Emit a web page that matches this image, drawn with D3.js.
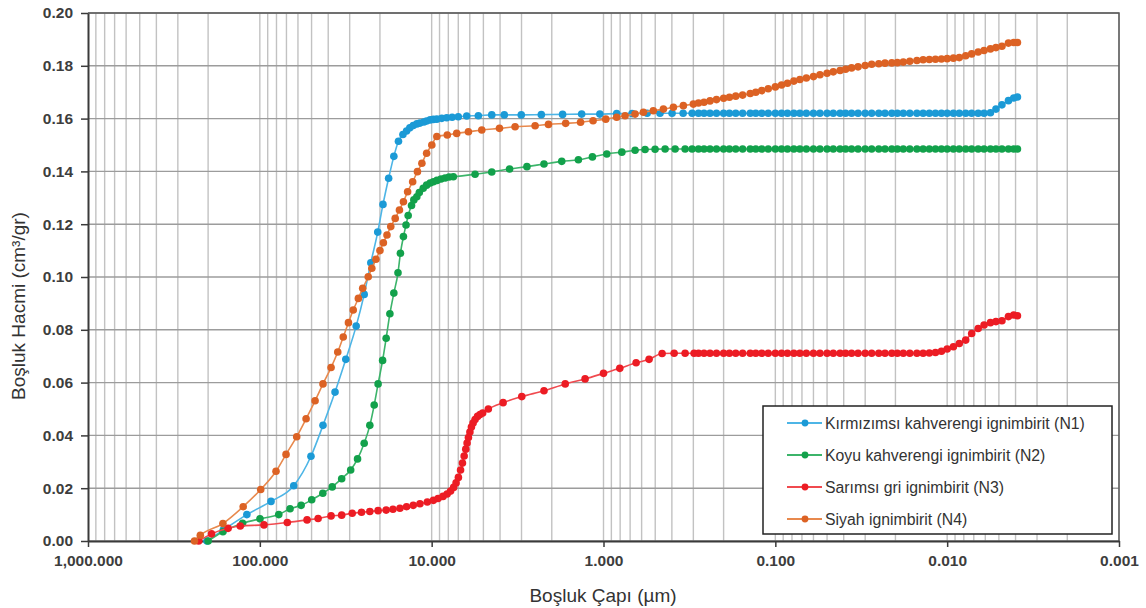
<!DOCTYPE html>
<html>
<head>
<meta charset="utf-8">
<script src="https://cdn.jsdelivr.net/npm/d3@7"></script>
<style>
  body { margin: 0; background: #fff; }
  text { font-family: "Liberation Sans", Arial, sans-serif; }
</style>
</head>
<body>
<div id="canvas"></div>
<script>
"use strict";

/* Chart data (pore diameter in µm, cumulative pore volume in cm3/gr) */
let xTickValues = [1000, 100, 10, 1, 0.1, 0.01, 0.001];
let yTickValues = [0, 0.02, 0.04, 0.06, 0.08, 0.10, 0.12, 0.14, 0.16, 0.18, 0.20];

let seriesNames = [
  "Kırmızımsı kahverengi ignimbirit (N1)",
  "Koyu kahverengi ignimbirit (N2)",
  "Sarımsı gri ignimbirit (N3)",
  "Siyah ignimbirit (N4)"
];

// head of each curve: [diameter, volume]
let n1Head = [
  [203, 0.0000], [163, 0.0042], [119, 0.0100], [86.1, 0.0150], [63.5, 0.0209],
  [50.4, 0.0321], [42.9, 0.0438], [36.5, 0.0564], [31.6, 0.0688], [27.5, 0.0814],
  [24.7, 0.0934], [22.6, 0.1054], [20.6, 0.1170], [19.2, 0.1275], [17.8, 0.1374],
  [16.6, 0.1457], [15.6, 0.1514], [14.7, 0.1540], [14.0, 0.1553], [13.4, 0.1565],
  [12.8, 0.1574], [12.2, 0.1580], [11.7, 0.1583], [11.1, 0.1587], [10.7, 0.1591],
  [10.2, 0.1595], [9.77, 0.1597], [9.33, 0.1598], [8.73, 0.1601], [8.17, 0.1603],
  [7.60, 0.1605], [7.00, 0.1607], [6.25, 0.1610], [5.35, 0.1611], [4.47, 0.1614],
  [3.78, 0.1614], [3.01, 0.1614], [2.30, 0.1615], [1.73, 0.1616], [1.34, 0.1617],
  [1.05, 0.1617], [0.838, 0.1619], [0.682, 0.1619], [0.557, 0.1620], [0.469, 0.1620],
  [0.399, 0.1620], [0.344, 0.1620], [0.305, 0.1620]
];

let n2Head = [
  [200, 0.0000], [164, 0.0035], [126, 0.0067], [99.8, 0.0084], [77.6, 0.0100],
  [66.7, 0.0122], [57.5, 0.0135], [49.9, 0.0156], [43.0, 0.0181], [37.9, 0.0205],
  [33.4, 0.0236], [29.6, 0.0269], [27.0, 0.0311], [24.7, 0.0370], [22.9, 0.0438],
  [21.6, 0.0515], [20.5, 0.0595], [19.3, 0.0684], [18.4, 0.0768], [17.5, 0.0861],
  [16.6, 0.0939], [15.7, 0.1016], [15.2, 0.1090], [14.6, 0.1153], [14.1, 0.1197],
  [13.7, 0.1233], [13.1, 0.1271], [12.7, 0.1292], [12.2, 0.1304], [11.8, 0.1320],
  [11.2, 0.1336], [10.7, 0.1348], [10.2, 0.1356], [9.77, 0.1361], [9.31, 0.1366],
  [8.82, 0.1371], [8.35, 0.1375], [7.92, 0.1379], [7.48, 0.1380], [5.59, 0.1389],
  [4.47, 0.1398], [3.52, 0.1409], [2.79, 0.1418], [2.22, 0.1428], [1.75, 0.1438],
  [1.40, 0.1444], [1.16, 0.1455], [0.957, 0.1466], [0.782, 0.1473], [0.655, 0.1480],
  [0.573, 0.1483], [0.501, 0.1484], [0.438, 0.1485], [0.383, 0.1485], [0.335, 0.1485],
  [0.305, 0.1485]
];

let n3Head = [
  [227, 0.0000], [191, 0.0027], [153, 0.0048], [130, 0.0057], [94.6, 0.0061],
  [69.2, 0.0070], [53.1, 0.0080], [45.8, 0.0085], [38.5, 0.0095], [33.4, 0.0098],
  [29.0, 0.0105], [25.6, 0.0109], [22.9, 0.0112], [20.5, 0.0115], [18.4, 0.0117],
  [16.8, 0.0120], [15.3, 0.0124], [14.0, 0.0130], [12.8, 0.0135], [11.7, 0.0141],
  [10.6, 0.0148], [9.77, 0.0154], [9.18, 0.0161], [8.59, 0.0169], [8.13, 0.0178],
  [7.76, 0.0189], [7.45, 0.0203], [7.21, 0.0220], [6.99, 0.0241], [6.79, 0.0269],
  [6.62, 0.0295], [6.47, 0.0322], [6.33, 0.0348], [6.22, 0.0371], [6.11, 0.0392],
  [5.99, 0.0413], [5.87, 0.0432], [5.74, 0.0447], [5.59, 0.0460], [5.41, 0.0472],
  [5.23, 0.0479], [5.05, 0.0485], [4.68, 0.0500], [3.84, 0.0524], [2.99, 0.0547],
  [2.22, 0.0569], [1.67, 0.0595], [1.28, 0.0614], [1.00, 0.0635], [0.804, 0.0654],
  [0.646, 0.0675], [0.543, 0.0688], [0.456, 0.0710], [0.388, 0.0711], [0.335, 0.0711],
  [0.297, 0.0711]
];

let n4Head = [
  [240, 0.0000], [222, 0.0022], [164, 0.0066], [125, 0.0130], [98.8, 0.0195],
  [80.5, 0.0264], [70.4, 0.0328], [61.0, 0.0395], [53.8, 0.0463], [47.7, 0.0531],
  [42.9, 0.0595], [38.5, 0.0657], [35.2, 0.0716], [32.7, 0.0773], [30.5, 0.0827],
  [28.6, 0.0875], [26.7, 0.0919], [25.2, 0.0957], [23.4, 0.1001], [22.3, 0.1033],
  [21.1, 0.1067], [20.0, 0.1100], [19.1, 0.1130], [18.2, 0.1159], [17.3, 0.1191],
  [16.3, 0.1222], [15.4, 0.1254], [14.6, 0.1285], [13.8, 0.1323], [12.9, 0.1361],
  [12.1, 0.1399], [11.4, 0.1431], [10.7, 0.1469], [9.98, 0.1500], [9.33, 0.1532],
  [8.11, 0.1538], [7.15, 0.1544], [6.11, 0.1550], [5.11, 0.1557], [4.03, 0.1563],
  [3.27, 0.1569], [2.50, 0.1573], [2.09, 0.1578], [1.66, 0.1582], [1.36, 0.1586],
  [1.15, 0.1592], [0.97, 0.1598], [0.838, 0.1605], [0.749, 0.1611], [0.655, 0.1617],
  [0.586, 0.1624], [0.513, 0.1630], [0.448, 0.1636], [0.392, 0.1643], [0.343, 0.1649],
  [0.300, 0.1655]
];

// dense tail: shared diameters, one volume per diameter for each curve
let tailSizes = [
  0.28, 0.26, 0.24, 0.22, 0.20, 0.185, 0.17, 0.155, 0.14, 0.13,
  0.12, 0.11, 0.10, 0.092, 0.085, 0.078, 0.072, 0.066, 0.060, 0.055,
  0.050, 0.046, 0.042, 0.039, 0.036, 0.033, 0.030, 0.0275, 0.025, 0.023,
  0.021, 0.0195, 0.018, 0.0165, 0.015, 0.0138, 0.0127, 0.0117, 0.0108, 0.0100,
  0.0092, 0.0085, 0.0078, 0.0072, 0.0066, 0.0061, 0.0056, 0.0052, 0.0048, 0.0044,
  0.0041, 0.0039
];

let n1Tail = [
  0.1620, 0.1620, 0.1620, 0.1620, 0.1620, 0.1620, 0.1620, 0.1620, 0.1620, 0.1620,
  0.1620, 0.1620, 0.1620, 0.1620, 0.1620, 0.1620, 0.1620, 0.1620, 0.1620, 0.1620,
  0.1620, 0.1620, 0.1620, 0.1620, 0.1620, 0.1620, 0.1620, 0.1620, 0.1620, 0.1620,
  0.1620, 0.1620, 0.1620, 0.1620, 0.1620, 0.1620, 0.1620, 0.1620, 0.1620, 0.1620,
  0.1620, 0.1620, 0.1620, 0.1620, 0.1620, 0.1620, 0.1622, 0.1636, 0.1652, 0.1668,
  0.1678, 0.1682
];

let n2Tail = [
  0.1485, 0.1485, 0.1485, 0.1485, 0.1485, 0.1485, 0.1485, 0.1485, 0.1485, 0.1485,
  0.1485, 0.1485, 0.1485, 0.1485, 0.1485, 0.1485, 0.1485, 0.1485, 0.1485, 0.1485,
  0.1485, 0.1485, 0.1485, 0.1485, 0.1485, 0.1485, 0.1485, 0.1485, 0.1485, 0.1485,
  0.1485, 0.1485, 0.1485, 0.1485, 0.1485, 0.1485, 0.1485, 0.1485, 0.1485, 0.1485,
  0.1485, 0.1485, 0.1485, 0.1485, 0.1485, 0.1485, 0.1485, 0.1485, 0.1485, 0.1485,
  0.1485, 0.1485
];

let n3Tail = [
  0.0711, 0.0711, 0.0711, 0.0711, 0.0711, 0.0711, 0.0711, 0.0711, 0.0711, 0.0711,
  0.0711, 0.0711, 0.0711, 0.0711, 0.0711, 0.0711, 0.0711, 0.0711, 0.0711, 0.0711,
  0.0711, 0.0711, 0.0711, 0.0711, 0.0711, 0.0711, 0.0711, 0.0711, 0.0711, 0.0711,
  0.0711, 0.0711, 0.0711, 0.0711, 0.0711, 0.0711, 0.0712, 0.0714, 0.0719, 0.0727,
  0.0736, 0.0748, 0.0761, 0.0786, 0.0805, 0.0818, 0.0827, 0.0831, 0.0834, 0.0850,
  0.0856, 0.0853
];

let n4Tail = [
  0.1659, 0.1662, 0.1667, 0.1672, 0.1677, 0.1681, 0.1685, 0.1689, 0.1695, 0.1700,
  0.1706, 0.1713, 0.1720, 0.1727, 0.1734, 0.1742, 0.1748, 0.1754, 0.1759, 0.1766,
  0.1772, 0.1777, 0.1782, 0.1787, 0.1792, 0.1796, 0.1801, 0.1806, 0.1808, 0.1810,
  0.1811, 0.1812, 0.1814, 0.1817, 0.1820, 0.1823, 0.1824, 0.1825, 0.1826, 0.1827,
  0.1829, 0.1831, 0.1838, 0.1845, 0.1852, 0.1858, 0.1864, 0.1869, 0.1874, 0.1886,
  0.1888, 0.1888
];

/* Drawing configuration */
let svgWidth = 1146;
let svgHeight = 608;
let plotLeft = 88;
let plotRight = 1119;
let plotTop = 13;
let plotBottom = 541;
let markerRadius = 3.8;

let markerColors = ["#1b9ad6", "#12a14b", "#ec1c24", "#dc6224"];
let lineColors = ["#4db5e6", "#3cb46a", "#f04a4f", "#e8894d"];

let svg = d3.select("#canvas")
  .append("svg")
  .attr("width", svgWidth)
  .attr("height", svgHeight);

let xScale = d3.scaleLog()
  .domain([1000, 0.001])
  .range([plotLeft, plotRight]);

let yScale = d3.scaleLinear()
  .domain([0, 0.2])
  .range([plotBottom, plotTop]);

/* Grid: vertical lines at every 1..9 x 10^k */
let minorValues = [];
for (let k = -3; k <= 2; k = k + 1) {
  for (let m = 1; m <= 9; m = m + 1) {
    minorValues.push(m * Math.pow(10, k));
  }
}

svg.append("g")
  .selectAll("line")
  .data(minorValues)
  .enter()
  .append("line")
  .attr("x1", d => xScale(d))
  .attr("x2", d => xScale(d))
  .attr("y1", plotTop)
  .attr("y2", plotBottom)
  .attr("stroke", "#c2c2c2")
  .attr("stroke-width", 1.4);

svg.append("g")
  .selectAll("line")
  .data(yTickValues)
  .enter()
  .append("line")
  .attr("x1", plotLeft)
  .attr("x2", plotRight)
  .attr("y1", d => yScale(d))
  .attr("y2", d => yScale(d))
  .attr("stroke", "#9c9c9c")
  .attr("stroke-width", 1.4);

/* Plot border (top and right) */
svg.append("path")
  .attr("d", "M" + plotLeft + "," + plotTop + "H" + plotRight + "V" + plotBottom)
  .attr("fill", "none")
  .attr("stroke", "#5a5a5a")
  .attr("stroke-width", 1.5);

/* Axes */
let xAxis = d3.axisBottom(xScale)
  .tickValues(xTickValues)
  .tickFormat(d3.format(",.3f"))
  .tickSize(6)
  .tickSizeOuter(0);

let yAxis = d3.axisLeft(yScale)
  .tickValues(yTickValues)
  .tickFormat(d3.format(".2f"))
  .tickSize(7)
  .tickSizeOuter(0);

let gx = svg.append("g")
  .attr("transform", "translate(0," + plotBottom + ")")
  .call(xAxis);

let gy = svg.append("g")
  .attr("transform", "translate(" + plotLeft + ",0)")
  .call(yAxis);

[gx, gy].forEach(g => {
  g.select(".domain").attr("stroke", "#3a3a3a").attr("stroke-width", 2);
  g.selectAll(".tick line").attr("stroke", "#3a3a3a").attr("stroke-width", 1.5);
  g.selectAll(".tick text")
    .attr("fill", "#3d3d3d")
    .attr("font-size", "15.5px")
    .attr("font-weight", "bold")
    .style("font-family", "'Liberation Sans', Arial, sans-serif");
});
gx.selectAll(".tick text").attr("dy", "1.05em");
gy.selectAll(".tick text").attr("x", -15);

/* Axis titles */
svg.append("text")
  .attr("x", 603)
  .attr("y", 602)
  .attr("text-anchor", "middle")
  .attr("font-size", "19px")
  .attr("fill", "#333")
  .text("Boşluk Çapı (µm)");

svg.append("text")
  .attr("transform", "translate(25,306) rotate(-90)")
  .attr("text-anchor", "middle")
  .attr("font-size", "19px")
  .attr("fill", "#333")
  .text("Boşluk Hacmi (cm³/gr)");

/* Series */
let heads = [n1Head, n2Head, n3Head, n4Head];
let tails = [n1Tail, n2Tail, n3Tail, n4Tail];

let allSeries = heads.map((head, i) => {
  let pts = head.map(p => ({ size: p[0], vol: p[1] }));
  for (let j = 0; j < tailSizes.length; j = j + 1) {
    pts.push({ size: tailSizes[j], vol: tails[i][j] });
  }
  return pts;
});

let line = d3.line()
  .x(d => xScale(d.size))
  .y(d => yScale(d.vol))
  .curve(d3.curveMonotoneX);

allSeries.forEach((pts, i) => {
  let g = svg.append("g");
  g.append("path")
    .datum(pts)
    .attr("d", line)
    .attr("fill", "none")
    .attr("stroke", lineColors[i])
    .attr("stroke-width", 1.6);
  g.selectAll("circle")
    .data(pts)
    .enter()
    .append("circle")
    .attr("cx", d => xScale(d.size))
    .attr("cy", d => yScale(d.vol))
    .attr("r", markerRadius)
    .attr("fill", markerColors[i]);
});

/* Legend */
let legend = svg.append("g");

legend.append("rect")
  .attr("x", 763)
  .attr("y", 406)
  .attr("width", 349)
  .attr("height", 128)
  .attr("fill", "#fff")
  .attr("stroke", "#222")
  .attr("stroke-width", 1.5);

seriesNames.forEach((name, i) => {
  let yPos = 423 + i * 32;
  legend.append("line")
    .attr("x1", 787)
    .attr("x2", 822)
    .attr("y1", yPos)
    .attr("y2", yPos)
    .attr("stroke", lineColors[i])
    .attr("stroke-width", 1.8);
  legend.append("circle")
    .attr("cx", 805)
    .attr("cy", yPos)
    .attr("r", 3.4)
    .attr("fill", markerColors[i]);
  legend.append("text")
    .attr("x", 825)
    .attr("y", yPos)
    .attr("dy", "0.36em")
    .attr("font-size", "15.8px")
    .attr("fill", "#333")
    .text(name);
});
</script>
</body>
</html>
